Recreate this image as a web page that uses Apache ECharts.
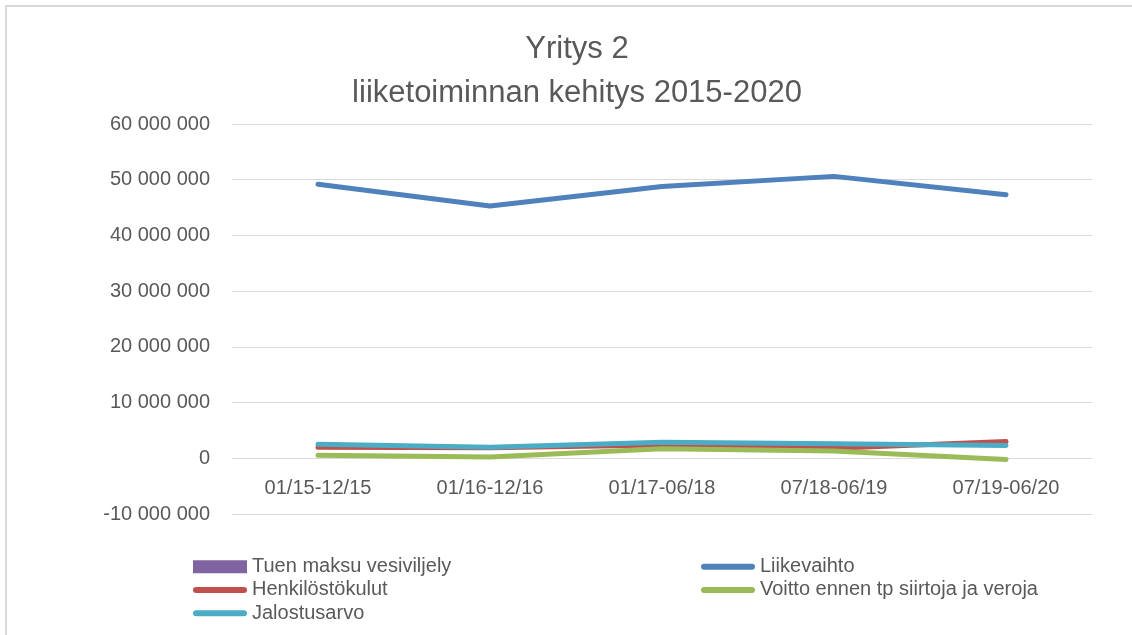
<!DOCTYPE html>
<html>
<head>
<meta charset="utf-8">
<script src="https://cdn.jsdelivr.net/npm/echarts@6/dist/echarts.min.js"></script>
<style>
  html, body { margin: 0; padding: 0; background: #fff; }
  #chart { width: 1132px; height: 635px; }
</style>
</head>
<body>
<div id="chart"></div>
<script>
var categories = ['01/15-12/15', '01/16-12/16', '01/17-06/18', '07/18-06/19', '07/19-06/20'];
var tuenMaksu = [0, 0, 0, 0, 0];
var liikevaihto = [49200000, 45300000, 48800000, 50600000, 47300000];
var henkilostokulut = [2000000, 1900000, 2400000, 1800000, 3000000];
var voitto = [550000, 250000, 1700000, 1300000, -200000];
var jalostusarvo = [2500000, 2000000, 2900000, 2600000, 2300000];

var FONT = "'Liberation Sans', Arial, sans-serif";
var TEXT = '#595959';
var GRID = '#d9d9d9';
var LINE_ICON = 'path://M3,0 H51 A3,3 0 0 1 51,6 H3 A3,3 0 0 1 3,0 Z';

function spaced(v) {
    var s = String(Math.abs(v)).replace(/\B(?=(\d{3})+(?!\d))/g, ' ');
    return (v < 0 ? '-' : '') + s;
}

function lineSeries(name, data, color) {
    return {
        name: name,
        type: 'line',
        data: data,
        symbol: 'none',
        smooth: false,
        lineStyle: { color: color, width: 5, cap: 'round', join: 'round' },
        itemStyle: { color: color }
    };
}

var legendBase = {
    orient: 'vertical',
    padding: 0,
    itemWidth: 54,
    itemHeight: 13,
    itemGap: 0,
    textStyle: { color: TEXT, fontFamily: FONT, fontSize: 20, lineHeight: 23.3 }
};

var option = {
    backgroundColor: '#fff',
    animation: false,
    title: {
        text: 'Yritys 2\nliiketoiminnan kehitys 2015-2020',
        left: 572,
        top: 22,
        textAlign: 'center',
        textStyle: { color: TEXT, fontFamily: FONT, fontSize: 31, fontWeight: 'normal', lineHeight: 44 }
    },
    graphic: [{
        type: 'rect',
        shape: { x: 6, y: 6, width: 1200, height: 700 },
        style: { fill: 'none', stroke: GRID, lineWidth: 2 },
        silent: true
    }],
    legend: [
        Object.assign({}, legendBase, {
            left: 193,
            top: 555,
            data: [
                { name: 'Tuen maksu vesiviljely', icon: 'rect' },
                { name: 'Henkilöstökulut', icon: LINE_ICON },
                { name: 'Jalostusarvo', icon: LINE_ICON }
            ]
        }),
        Object.assign({}, legendBase, {
            left: 701,
            top: 555,
            data: [
                { name: 'Liikevaihto', icon: LINE_ICON },
                { name: 'Voitto ennen tp siirtoja ja veroja', icon: LINE_ICON }
            ]
        })
    ],
    grid: { left: 232, right: 40, top: 124, bottom: 121, containLabel: false },
    xAxis: {
        type: 'category',
        data: categories,
        boundaryGap: true,
        offset: -55.7,
        axisLine: { show: false, onZero: false },
        axisTick: { show: false },
        axisLabel: { color: TEXT, fontFamily: FONT, fontSize: 20, margin: 20 },
        splitLine: { show: false }
    },
    yAxis: {
        type: 'value',
        min: -10000000,
        max: 60000000,
        interval: 10000000,
        axisLine: { show: false },
        axisTick: { show: false },
        axisLabel: { color: TEXT, fontFamily: FONT, fontSize: 20, margin: 22, formatter: spaced },
        splitLine: { lineStyle: { color: GRID, width: 1 } }
    },
    series: [
        {
            name: 'Tuen maksu vesiviljely',
            type: 'bar',
            data: tuenMaksu,
            itemStyle: { color: '#8064A2' }
        },
        lineSeries('Liikevaihto', liikevaihto, '#4F81BD'),
        lineSeries('Henkilöstökulut', henkilostokulut, '#C0504D'),
        lineSeries('Voitto ennen tp siirtoja ja veroja', voitto, '#9BBB59'),
        lineSeries('Jalostusarvo', jalostusarvo, '#4BACC6')
    ]
};

var chart = echarts.init(document.getElementById('chart'));
chart.setOption(option);
</script>
</body>
</html>
